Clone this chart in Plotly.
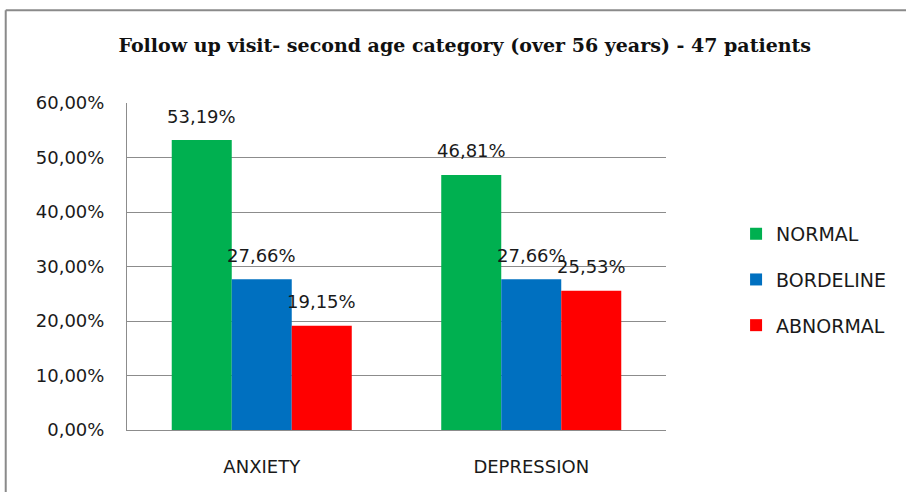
import plotly.graph_objects as go

categories = ["ANXIETY", "DEPRESSION"]
series_names = ["NORMAL", "BORDELINE", "ABNORMAL"]
normal = [53.19, 46.81]
borderline = [27.66, 27.66]
abnormal = [19.15, 25.53]
series_values = [normal, borderline, abnormal]
colors = ["#00B050", "#0070C0", "#FF0000"]
y_ticks = [0, 10, 20, 30, 40, 50, 60]


def pct(v):
    return f"{v:.2f}".replace(".", ",") + "%"


BARGAP = 0.332
label_font = "DejaVu Sans"

fig = go.Figure()
for name, vals, col in zip(series_names, series_values, colors):
    fig.add_trace(go.Bar(
        name=name, x=categories, y=vals, marker=dict(color=col, line=dict(width=0)),
        legendgroup=name, hoverinfo="skip",
    ))

# value labels above each bar, placed at the bar's own value
bar_w = (1 - BARGAP) / len(series_names)
annotations = []
for j, vals in enumerate(series_values):
    for i, v in enumerate(vals):
        annotations.append(dict(
            x=i + (j - 1) * bar_w, y=v, xref="x", yref="y",
            text=pct(v),
            showarrow=False, yshift=24, yanchor="middle",
            font=dict(family=label_font, size=18, color="#1a1a1a"),
        ))

fig.update_layout(
    width=906, height=492,
    margin=dict(l=127, r=240, t=103, b=62),
    paper_bgcolor="white", plot_bgcolor="white",
    barmode="group", bargap=BARGAP, bargroupgap=0,
    title=dict(
        text="<b>Follow up visit- second age category (over 56 years) - 47 patients</b>",
        x=0.513, xanchor="center", y=0.908, yanchor="middle", yref="container",
        font=dict(family="DejaVu Serif", size=19, color="#111111"),
    ),
    legend=dict(
        x=1.13, xanchor="left", y=0.459, yanchor="middle",
        font=dict(family=label_font, size=19, color="#1a1a1a"),
        traceorder="grouped", tracegroupgap=18, itemwidth=30,
        bgcolor="rgba(0,0,0,0)",
    ),
    xaxis=dict(
        type="category", showgrid=False, showline=True, linecolor="#8c8c8c", linewidth=1,
        ticks="", ticklabelstandoff=20,
        tickfont=dict(family=label_font, size=18, color="#1a1a1a"),
        range=[-0.5, 1.5],
    ),
    yaxis=dict(
        range=[0, 60], tickvals=y_ticks, ticktext=[pct(t) for t in y_ticks],
        showgrid=True, gridcolor="#8c8c8c", gridwidth=1,
        showline=True, linecolor="#8c8c8c", linewidth=1,
        zeroline=False, ticks="", ticklabelstandoff=18,
        tickfont=dict(family=label_font, size=18, color="#1a1a1a"),
    ),
    annotations=annotations,
    shapes=[
        # chart frame (top and left edges)
        dict(type="line", xref="paper", yref="paper", x0=-0.225, x1=1.5, y0=1.284, y1=1.284,
             line=dict(color="#8a8a8a", width=2)),
        dict(type="line", xref="paper", yref="paper", x0=-0.225, x1=-0.225, y0=1.284, y1=-0.3,
             line=dict(color="#8a8a8a", width=2)),
    ],
)

fig.write_html("out.html")
